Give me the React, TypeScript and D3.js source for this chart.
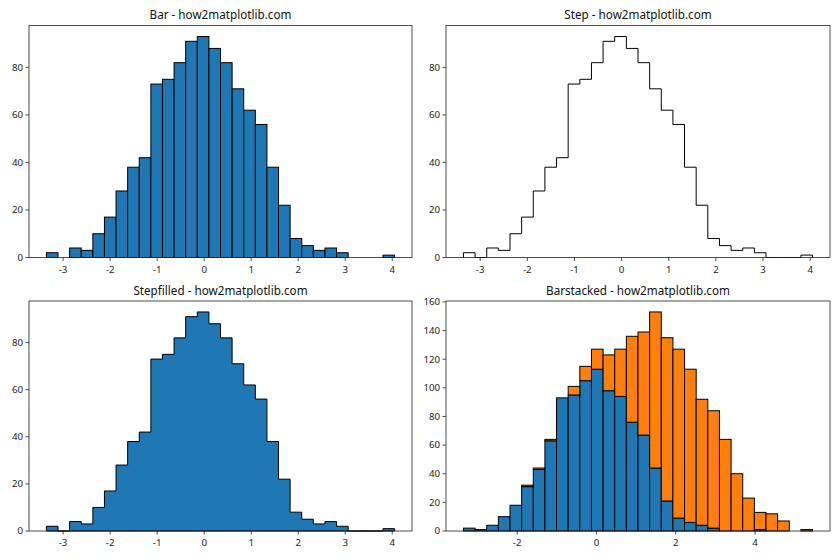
import { useRef, useEffect } from "react";
import * as d3 from "d3";

// counts per bin (30 bins each)
const normalCounts = [
  2, 0, 4, 3, 10, 17, 28, 38, 42, 73, 75, 82, 91, 93, 88, 82, 71, 62, 56, 38, 22,
  8, 5, 3, 4, 2, 0, 0, 0, 1,
];
const normalRange: [number, number] = [-3.355, 4.05];

const stackedBlue = [
  2, 1, 4, 10, 18, 31, 43, 63, 93, 95, 105, 113, 98, 94, 76, 67, 44, 21, 9, 6, 4,
  2, 0, 0, 0, 1, 0, 0, 0, 0,
];
const stackedOrange = [
  0, 0, 0, 0, 0, 1, 1, 1, 0, 6, 10, 14, 25, 33, 60, 72, 109, 114, 118, 107, 88,
  82, 64, 40, 23, 12, 12, 7, 0, 1,
];
const stackedRange: [number, number] = [-3.355, 5.45];

const titles = [
  "Bar - how2matplotlib.com",
  "Step - how2matplotlib.com",
  "Stepfilled - how2matplotlib.com",
  "Barstacked - how2matplotlib.com",
];
const xTicksNormal = [-3, -2, -1, 0, 1, 2, 3, 4];
const yTicksNormal = [0, 20, 40, 60, 80];
const xTicksStacked = [-2, 0, 2, 4];
const yTicksStacked = [0, 20, 40, 60, 80, 100, 120, 140, 160];

const BLUE = "#1f77b4";
const ORANGE = "#ff7f0e";
const FONT = "'Noto Sans', 'DejaVu Sans', sans-serif";

const edgesFor = (range: [number, number], n: number) => {
  const w = (range[1] - range[0]) / n;
  return d3.range(n + 1).map((i) => range[0] + i * w);
};

const App = () => {
  const svgRef = useRef<SVGSVGElement | null>(null);

  useEffect(() => {
    if (!svgRef.current) return;
    const svg = d3.select(svgRef.current);
    svg.selectAll("*").remove();

    const boxes = [
      { x0: 29, x1: 412, y0: 25.5, y1: 257.5 },
      { x0: 446, x1: 830, y0: 25.5, y1: 257.5 },
      { x0: 29, x1: 412, y0: 301, y1: 531 },
      { x0: 446, x1: 830, y0: 301, y1: 531 },
    ];

    boxes.forEach((b, i) => {
      const stacked = i === 3;
      const range = stacked ? stackedRange : normalRange;
      const span = range[1] - range[0];
      const yMax = stacked
        ? d3.max(stackedBlue.map((v, k) => v + stackedOrange[k]))!
        : d3.max(normalCounts)!;

      const x = d3
        .scaleLinear()
        .domain([range[0] - span * 0.05, range[1] + span * 0.05])
        .range([b.x0, b.x1]);
      const y = d3
        .scaleLinear()
        .domain([0, yMax * 1.05])
        .range([b.y1, b.y0]);

      const edges = edgesFor(range, 30);
      const g = svg.append("g");

      if (i === 0) {
        const bins = normalCounts
          .map((c, k) => ({ c, k }))
          .filter((d) => d.c > 0);
        g.selectAll("rect")
          .data(bins)
          .join("rect")
          .attr("x", (d) => x(edges[d.k]))
          .attr("y", (d) => y(d.c))
          .attr("width", (d) => x(edges[d.k + 1]) - x(edges[d.k]))
          .attr("height", (d) => y(0) - y(d.c))
          .attr("fill", BLUE)
          .attr("stroke", "black")
          .attr("stroke-width", 1);
      } else if (i === 1 || i === 2) {
        const pts: [number, number][] = [[edges[0], 0]];
        normalCounts.forEach((c, k) => {
          pts.push([edges[k], c]);
          pts.push([edges[k + 1], c]);
        });
        pts.push([edges[30], 0]);
        const line = d3
          .line<[number, number]>()
          .x((d) => x(d[0]))
          .y((d) => y(d[1]));
        g.append("path")
          .attr("d", line(pts) + (i === 2 ? "Z" : ""))
          .attr("fill", i === 2 ? BLUE : "none")
          .attr("stroke", "black")
          .attr("stroke-width", 1)
          .attr("stroke-linejoin", "miter");
      } else {
        const layers = [
          { vals: stackedBlue, base: stackedBlue.map(() => 0), color: BLUE },
          { vals: stackedOrange, base: stackedBlue, color: ORANGE },
        ];
        layers.forEach((layer) => {
          layer.vals.forEach((v, k) => {
            if (v <= 0) return;
            const b0 = layer.base[k];
            g.append("rect")
              .attr("x", x(edges[k]))
              .attr("y", y(b0 + v))
              .attr("width", x(edges[k + 1]) - x(edges[k]))
              .attr("height", y(b0) - y(b0 + v))
              .attr("fill", layer.color)
              .attr("stroke", "black")
              .attr("stroke-width", 1);
          });
        });
      }

      // frame
      svg
        .append("rect")
        .attr("x", b.x0)
        .attr("y", b.y0)
        .attr("width", b.x1 - b.x0)
        .attr("height", b.y1 - b.y0)
        .attr("fill", "none")
        .attr("stroke", "#222")
        .attr("stroke-width", 0.8);

      const xTicks = stacked ? xTicksStacked : xTicksNormal;
      const yTicks = stacked ? yTicksStacked : yTicksNormal;

      const xa = svg.append("g").attr("font-family", FONT).attr("font-size", 9.7);
      xTicks.forEach((t) => {
        xa.append("line")
          .attr("x1", x(t))
          .attr("x2", x(t))
          .attr("y1", b.y1)
          .attr("y2", b.y1 + 3.5)
          .attr("stroke", "#222")
          .attr("stroke-width", 0.8);
        xa.append("text")
          .attr("x", x(t))
          .attr("y", b.y1 + 15)
          .attr("text-anchor", "middle")
          .attr("fill", "#222")
          .text(t < 0 ? `-${Math.abs(t)}` : `${t}`);
      });

      const ya = svg.append("g").attr("font-family", FONT).attr("font-size", 9.7);
      yTicks.forEach((t) => {
        ya.append("line")
          .attr("x1", b.x0 - 3.5)
          .attr("x2", b.x0)
          .attr("y1", y(t))
          .attr("y2", y(t))
          .attr("stroke", "#222")
          .attr("stroke-width", 0.8);
        ya.append("text")
          .attr("x", b.x0 - 6)
          .attr("y", y(t))
          .attr("dy", "0.35em")
          .attr("text-anchor", "end")
          .attr("fill", "#222")
          .text(`${t}`);
      });

      svg
        .append("text")
        .attr("x", (b.x0 + b.x1) / 2)
        .attr("y", b.y0 - 6.5)
        .attr("text-anchor", "middle")
        .attr("font-family", FONT)
        .attr("font-size", 11.7)
        .attr("fill", "#111")
        .text(titles[i]);
    });
  }, []);

  return (
    <div style={{ position: "absolute", left: 0, top: 0 }}>
      <svg ref={svgRef} width={840} height={560} style={{ display: "block", background: "white" }}></svg>
    </div>
  );
};

export default App;
